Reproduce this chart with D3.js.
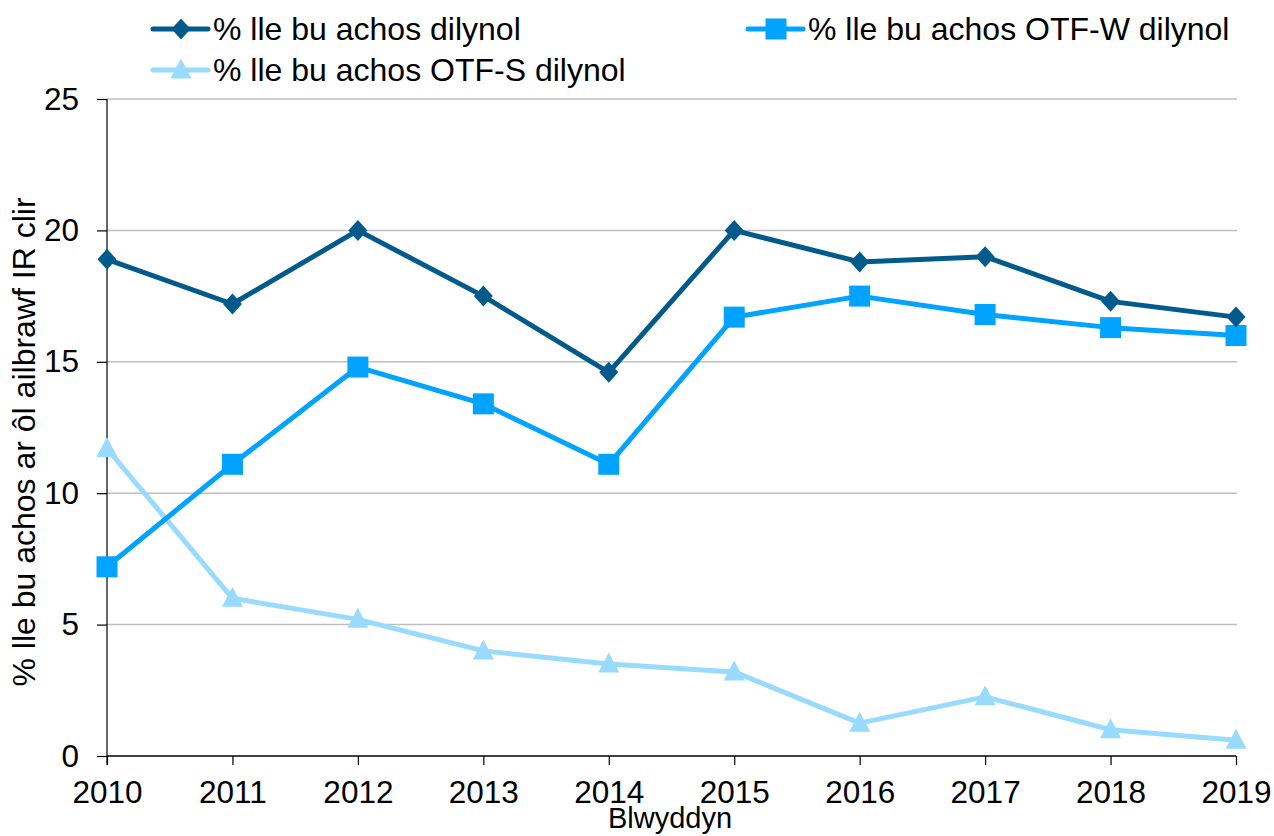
<!DOCTYPE html>
<html>
<head>
<meta charset="utf-8">
<script src="https://cdn.jsdelivr.net/npm/d3@7"></script>
<style>
  body { margin: 0; background: #fff; }
  text { font-family: "Liberation Sans", Arial, sans-serif; fill: #000; }
</style>
</head>
<body>
<div id="chart"></div>
<script>
// data
var years = [2010, 2011, 2012, 2013, 2014, 2015, 2016, 2017, 2018, 2019];
var dilynol = [18.9, 17.2, 20.0, 17.5, 14.6, 20.0, 18.8, 19.0, 17.3, 16.7];
var otfW = [7.2, 11.1, 14.8, 13.4, 11.1, 16.7, 17.5, 16.8, 16.3, 16.0];
var otfS = [11.7, 6.0, 5.2, 4.0, 3.5, 3.2, 1.25, 2.25, 1.0, 0.6];
var yTicks = [0, 5, 10, 15, 20, 25];
var seriesNames = ["% lle bu achos dilynol", "% lle bu achos OTF-W dilynol", "% lle bu achos OTF-S dilynol"];

// set the dimensions and margins of the graph
var margin = {top: 99, right: 38, bottom: 80, left: 107},
    width = 1274 - margin.left - margin.right,
    height = 836 - margin.top - margin.bottom;

var svgRoot = d3.select("#chart")
  .append("svg")
    .attr("width", 1274)
    .attr("height", 836);

var svg = svgRoot.append("g")
    .attr("transform", "translate(" + margin.left + "," + margin.top + ")");

var x = d3.scaleLinear()
  .domain([2010, 2019])
  .range([0, width]);

var y = d3.scaleLinear()
  .domain([0, 25])
  .range([height, 0]);

// marker shapes (excel style: diamond a bit narrower, triangle taller than equilateral)
var diamond = {draw: function(ctx) {
  ctx.moveTo(0, -10.5); ctx.lineTo(9.5, 0); ctx.lineTo(0, 10.5); ctx.lineTo(-9.5, 0); ctx.closePath();
}};
var square = {draw: function(ctx) {
  ctx.rect(-10.5, -10.5, 21, 21);
}};
var triangle = {draw: function(ctx) {
  ctx.moveTo(0, -11.5); ctx.lineTo(10.5, 8.5); ctx.lineTo(-10.5, 8.5); ctx.closePath();
}};

// gridlines
svg.selectAll("gridLine")
  .data(yTicks.filter(function(d){ return d > 0; }))
  .enter()
  .append("line")
    .attr("x1", 0)
    .attr("x2", width + 1)
    .attr("y1", function(d){ return y(d); })
    .attr("y2", function(d){ return y(d); })
    .style("stroke", "#bfbfbf")
    .style("stroke-width", 1.5);

// y axis
var yAxis = svg.append("g")
  .call(d3.axisLeft(y).tickValues(yTicks).tickSize(10).tickPadding(18));
yAxis.select(".domain").attr("d", "M0," + (height + 9) + "V0").style("stroke", "#000").style("stroke-width", 1.2);
yAxis.selectAll(".tick line").style("stroke", "#000").style("stroke-width", 1.2);
yAxis.selectAll("text").style("font-size", "31.5px").style("font-family", "Liberation Sans, Arial, sans-serif").attr("fill", "#000");

// x axis
var xAxis = svg.append("g")
  .attr("transform", "translate(0," + height + ")")
  .call(d3.axisBottom(x).tickValues(years).tickFormat(d3.format("d")).tickSize(9).tickPadding(16));
xAxis.select(".domain").attr("d", "M0,0H" + width).style("stroke", "#000").style("stroke-width", 1.5);
xAxis.selectAll(".tick line").style("stroke", "#000").style("stroke-width", 1.2);
xAxis.selectAll("text").style("font-size", "31.5px").style("font-family", "Liberation Sans, Arial, sans-serif").attr("fill", "#000");

// axis titles
svgRoot.append("text")
  .attr("x", 670)
  .attr("y", 828)
  .style("text-anchor", "middle")
  .style("font-size", "29px")
  .text("Blwyddyn");

svgRoot.append("text")
  .attr("transform", "translate(35," + 442 + ") rotate(-90)")
  .style("text-anchor", "middle")
  .style("font-size", "32px")
  .text("% lle bu achos ar ôl ailbrawf IR clir");

// lines
var series = [
  {name: seriesNames[0], values: dilynol, color: "#005a8b", symbol: diamond},
  {name: seriesNames[1], values: otfW, color: "#00a3ff", symbol: square},
  {name: seriesNames[2], values: otfS, color: "#99daff", symbol: triangle}
];

var line = d3.line()
  .x(function(d, i) { return x(years[i]); })
  .y(function(d) { return y(d); });

// draw the light series first so the darker ones sit on top
var drawOrder = [series[2], series[1], series[0]];

svg.selectAll("seriesLine")
  .data(drawOrder)
  .enter()
  .append("path")
    .attr("d", function(d){ return line(d.values); })
    .style("stroke", function(d){ return d.color; })
    .style("stroke-width", 5)
    .style("fill", "none")
    .style("stroke-linejoin", "round");

drawOrder.forEach(function(s) {
  svg.selectAll("pt")
    .data(s.values)
    .enter()
    .append("path")
      .attr("d", d3.symbol().type(s.symbol))
      .attr("transform", function(d, i) {
        return "translate(" + x(years[i]) + "," + y(d) + ")";
      })
      .style("fill", s.color);
});

// legend
var legendPos = [
  {x: 153, y: 29},
  {x: 748, y: 29},
  {x: 153, y: 70}
];

series.forEach(function(s, i) {
  var p = legendPos[i];
  var lg = svgRoot.append("g").attr("transform", "translate(" + p.x + "," + p.y + ")");
  lg.append("line")
    .attr("x1", 0).attr("x2", 55)
    .attr("y1", 0).attr("y2", 0)
    .style("stroke", s.color)
    .style("stroke-width", 5)
    .style("stroke-linecap", "round");
  lg.append("path")
    .attr("d", d3.symbol().type(s.symbol))
    .attr("transform", "translate(28,0)")
    .style("fill", s.color);
  lg.append("text")
    .attr("x", 60)
    .attr("y", 0)
    .attr("dy", "0.35em")
    .style("font-size", "32px")
    .text(s.name);
});
</script>
</body>
</html>
